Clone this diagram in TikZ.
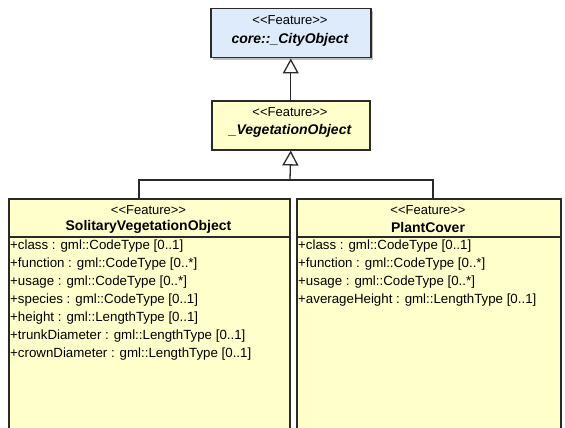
\documentclass[tikz,border=0pt]{standalone}
\usepackage{fontspec}
\setmainfont{Liberation Sans}
\usetikzlibrary{arrows.meta}
\definecolor{bluefill}{HTML}{DDEBFA}
\definecolor{yelfill}{HTML}{FFFFCC}
\definecolor{edge}{HTML}{2A2A2A}
\newcommand{\stereotxt}[1]{<\kern0pt<#1>\kern0pt>}
\tikzset{
  classbox/.style={draw=edge, line width=1.5pt, inner sep=0pt, anchor=north west},
  stereo/.style={inner sep=0pt, font=\fontsize{13}{15}\selectfont, anchor=center},
  cname/.style={inner sep=0pt, font=\fontsize{14}{16}\selectfont\bfseries, anchor=center},
  attr/.style={inner sep=0pt, font=\fontsize{13.3}{18}\selectfont, anchor=north west, align=left},
  conn/.style={draw=edge, line width=1.3pt},
  gen/.style={conn, -{Triangle[open, width=16pt, length=15pt, line width=1.3pt]}},
}
\begin{document}
\begin{tikzpicture}[x=1pt, y=-1pt]
\useasboundingbox (0,0) rectangle (565,428);
\clip (0,0) rectangle (565,428);
\fill[white] (0,0) rectangle (565,428);
% top class
\fill[black!25] (213,11) rectangle (373,60);
\node[classbox, fill=bluefill, minimum width=160pt, minimum height=49pt] (city) at (210,8) {};
\node[stereo] (cityst) at (290,20) {\stereotxt{Feature}};
\node[cname] (citynm) at (290,40) {\itshape core::\_CityObject};
% vegetation object
\node[classbox, fill=yelfill, minimum width=158pt, minimum height=49pt] (veg) at (211,100) {};
\node[stereo] (vegst) at (290,112) {\stereotxt{Feature}};
\node[cname] (vegnm) at (290,131) {\itshape \_VegetationObject};
% solitary vegetation object
\node[classbox, fill=yelfill, minimum width=281pt, minimum height=260pt] (sol) at (8,198) {};
\node[stereo] (solst) at (148.5,210) {\stereotxt{Feature}};
\node[cname] (solnm) at (148.5,227) {SolitaryVegetationObject};
\draw[draw=edge, line width=1.3pt] (8,237) -- (289,237);
\node[attr] (solattr) at (10,240) {+class : gml::CodeType [0..1]\\
+function : gml::CodeType [0..*]\\
+usage : gml::CodeType [0..*]\\
+species : gml::CodeType [0..1]\\
+height : gml::LengthType [0..1]\\
+trunkDiameter : gml::LengthType [0..1]\\
+crownDiameter : gml::LengthType [0..1]};
% plant cover
\node[classbox, fill=yelfill, minimum width=264pt, minimum height=260pt] (pc) at (296,198) {};
\node[stereo] (pcst) at (428,210) {\stereotxt{Feature}};
\node[cname] (pcnm) at (428,227) {PlantCover};
\draw[draw=edge, line width=1.3pt] (296,237) -- (560,237);
\node[attr] (pcattr) at (298,240) {+class : gml::CodeType [0..1]\\
+function : gml::CodeType [0..*]\\
+usage : gml::CodeType [0..*]\\
+averageHeight : gml::LengthType [0..1]};
% connectors
\coordinate (j) at (290,180);
\coordinate (jl) at (139,180);
\coordinate (jr) at (433,180);
\draw[gen] (veg.north) -- (city.south);
\draw[gen] (j) -- (veg.south);
\draw[conn] (jl |- sol.north) -- (jl) -- (jr) -- (jr |- pc.north);
\end{tikzpicture}
\end{document}
